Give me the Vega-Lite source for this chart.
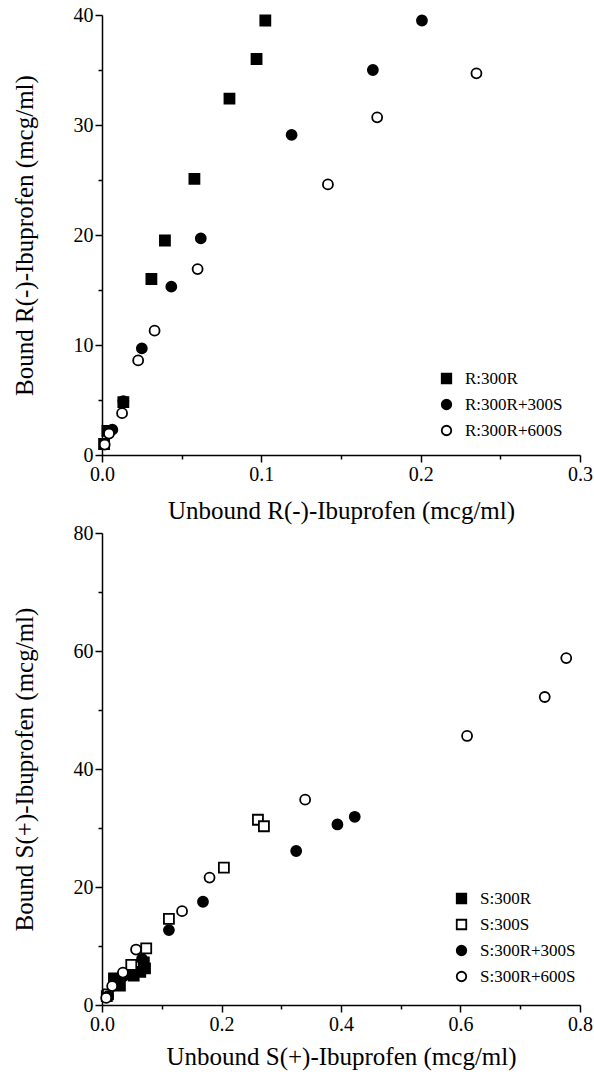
{
  "$schema": "https://vega.github.io/schema/vega-lite/v6.json",
  "background": "white",
  "padding": {"left": 12, "top": 5, "right": 4, "bottom": 5},
  "spacing": 0,
  "config": {
    "view": {"stroke": null},
    "font": "'Liberation Serif', 'Times New Roman', serif",
    "axis": {"grid": false, "domainColor": "black", "domainWidth": 1.5, "tickColor": "black", "tickWidth": 1.5, "labelFont": "'Liberation Serif', 'Times New Roman', serif", "labelFontSize": 20, "labelColor": "black", "titleFont": "'Liberation Serif', 'Times New Roman', serif", "titleFontSize": 25, "titleFontWeight": "normal", "titleColor": "black", "labelPadding": 2, "labelOverlap": false, "labelFlush": false},
    "legend": {"labelFont": "'Liberation Serif', 'Times New Roman', serif", "labelFontSize": 17, "labelColor": "black"}
  },
  "resolve": {"scale": {"x": "independent", "y": "independent", "shape": "independent", "fill": "independent", "stroke": "independent"}},
  "vconcat": [
    {
      "width": 478,
      "height": 440,
      "data": {"values": [
        {"u": 0.0013, "b": 1.0, "g": "R:300R"},
        {"u": 0.0034, "b": 2.2, "g": "R:300R"},
        {"u": 0.0134, "b": 4.8, "g": "R:300R"},
        {"u": 0.031, "b": 16.0, "g": "R:300R"},
        {"u": 0.0395, "b": 19.5, "g": "R:300R"},
        {"u": 0.058, "b": 25.1, "g": "R:300R"},
        {"u": 0.080, "b": 32.4, "g": "R:300R"},
        {"u": 0.097, "b": 36.0, "g": "R:300R"},
        {"u": 0.1025, "b": 39.5, "g": "R:300R"},
        {"u": 0.0065, "b": 2.3, "g": "R:300R+300S"},
        {"u": 0.0134, "b": 4.9, "g": "R:300R+300S"},
        {"u": 0.025, "b": 9.7, "g": "R:300R+300S"},
        {"u": 0.0435, "b": 15.3, "g": "R:300R+300S"},
        {"u": 0.062, "b": 19.7, "g": "R:300R+300S"},
        {"u": 0.119, "b": 29.1, "g": "R:300R+300S"},
        {"u": 0.170, "b": 35.0, "g": "R:300R+300S"},
        {"u": 0.2008, "b": 39.5, "g": "R:300R+300S"},
        {"u": 0.0017, "b": 0.95, "g": "R:300R+600S"},
        {"u": 0.0044, "b": 1.95, "g": "R:300R+600S"},
        {"u": 0.0126, "b": 3.8, "g": "R:300R+600S"},
        {"u": 0.0227, "b": 8.6, "g": "R:300R+600S"},
        {"u": 0.033, "b": 11.3, "g": "R:300R+600S"},
        {"u": 0.060, "b": 16.9, "g": "R:300R+600S"},
        {"u": 0.1418, "b": 24.6, "g": "R:300R+600S"},
        {"u": 0.1727, "b": 30.7, "g": "R:300R+600S"},
        {"u": 0.235, "b": 34.7, "g": "R:300R+600S"}
      ]},
      "mark": {"type": "point", "filled": true, "strokeWidth": 1.8, "size": 100, "opacity": 1},
      "encoding": {
        "x": {"field": "u", "type": "quantitative", "scale": {"domain": [0, 0.3], "nice": false},
          "axis": {"title": "Unbound R(-)-Ibuprofen (mcg/ml)", "values": [0, 0.05, 0.1, 0.15, 0.2, 0.25, 0.3], "format": ".1f",
            "labelExpr": "abs(datum.value*10 - round(datum.value*10)) < 0.001 ? datum.label : ''",
            "tickSize": {"condition": {"test": "abs(datum.value*10 - round(datum.value*10)) < 0.001", "value": 7}, "value": 4},
            "titlePadding": 14}},
        "y": {"field": "b", "type": "quantitative", "scale": {"domain": [0, 40], "nice": false},
          "axis": {"title": "Bound R(-)-Ibuprofen (mcg/ml)", "values": [0, 5, 10, 15, 20, 25, 30, 35, 40],
            "labelExpr": "datum.value % 10 == 0 ? datum.label : ''",
            "tickSize": {"condition": {"test": "datum.value % 10 == 0", "value": 7}, "value": 4},
            "titlePadding": 36}},
        "fill": {"field": "g", "type": "nominal", "scale": {"domain": ["R:300R", "R:300R+300S", "R:300R+600S"], "range": ["black", "black", "white"]},
          "legend": {"title": null, "orient": "none", "legendX": 336, "legendY": 355, "padding": 0, "rowPadding": 8, "labelOffset": 10, "symbolSize": 90, "symbolStrokeWidth": 1.8}},
        "stroke": {"field": "g", "type": "nominal", "scale": {"domain": ["R:300R", "R:300R+300S", "R:300R+600S"], "range": ["black", "black", "black"]},
          "legend": {"title": null, "orient": "none", "legendX": 336, "legendY": 355, "padding": 0, "rowPadding": 8, "labelOffset": 10, "symbolSize": 90, "symbolStrokeWidth": 1.8}},
        "shape": {"field": "g", "type": "nominal", "scale": {"domain": ["R:300R", "R:300R+300S", "R:300R+600S"], "range": ["square", "circle", "circle"]},
          "legend": {"title": null, "orient": "none", "legendX": 336, "legendY": 355, "padding": 0, "rowPadding": 8, "labelOffset": 10, "symbolSize": 90, "symbolStrokeWidth": 1.8}}
      }
    },
    {
      "width": 478,
      "height": 472,
      "data": {"values": [
        {"u": 0.008, "b": 1.5, "g": "S:300R"},
        {"u": 0.020, "b": 4.5, "g": "S:300R"},
        {"u": 0.030, "b": 3.3, "g": "S:300R"},
        {"u": 0.053, "b": 5.0, "g": "S:300R"},
        {"u": 0.064, "b": 5.6, "g": "S:300R"},
        {"u": 0.070, "b": 7.2, "g": "S:300R"},
        {"u": 0.072, "b": 6.2, "g": "S:300R"},
        {"u": 0.010, "b": 1.8, "g": "S:300S"},
        {"u": 0.049, "b": 6.8, "g": "S:300S"},
        {"u": 0.074, "b": 9.6, "g": "S:300S"},
        {"u": 0.112, "b": 14.6, "g": "S:300S"},
        {"u": 0.204, "b": 23.3, "g": "S:300S"},
        {"u": 0.261, "b": 31.4, "g": "S:300S"},
        {"u": 0.271, "b": 30.3, "g": "S:300S"},
        {"u": 0.010, "b": 1.5, "g": "S:300R+300S"},
        {"u": 0.035, "b": 4.8, "g": "S:300R+300S"},
        {"u": 0.067, "b": 7.8, "g": "S:300R+300S"},
        {"u": 0.112, "b": 12.7, "g": "S:300R+300S"},
        {"u": 0.169, "b": 17.5, "g": "S:300R+300S"},
        {"u": 0.325, "b": 26.1, "g": "S:300R+300S"},
        {"u": 0.394, "b": 30.6, "g": "S:300R+300S"},
        {"u": 0.423, "b": 31.9, "g": "S:300R+300S"},
        {"u": 0.007, "b": 1.2, "g": "S:300R+600S"},
        {"u": 0.017, "b": 3.2, "g": "S:300R+600S"},
        {"u": 0.035, "b": 5.5, "g": "S:300R+600S"},
        {"u": 0.057, "b": 9.4, "g": "S:300R+600S"},
        {"u": 0.134, "b": 15.9, "g": "S:300R+600S"},
        {"u": 0.180, "b": 21.6, "g": "S:300R+600S"},
        {"u": 0.340, "b": 34.8, "g": "S:300R+600S"},
        {"u": 0.611, "b": 45.6, "g": "S:300R+600S"},
        {"u": 0.741, "b": 52.2, "g": "S:300R+600S"},
        {"u": 0.777, "b": 58.8, "g": "S:300R+600S"}
      ]},
      "mark": {"type": "point", "filled": true, "strokeWidth": 1.8, "size": 100, "opacity": 1},
      "encoding": {
        "x": {"field": "u", "type": "quantitative", "scale": {"domain": [0, 0.8], "nice": false},
          "axis": {"title": "Unbound S(+)-Ibuprofen (mcg/ml)", "values": [0, 0.1, 0.2, 0.3, 0.4, 0.5, 0.6, 0.7, 0.8], "format": ".1f",
            "labelExpr": "abs(datum.value*5 - round(datum.value*5)) < 0.001 ? datum.label : ''",
            "tickSize": {"condition": {"test": "abs(datum.value*5 - round(datum.value*5)) < 0.001", "value": 7}, "value": 4},
            "titlePadding": 10}},
        "y": {"field": "b", "type": "quantitative", "scale": {"domain": [0, 80], "nice": false},
          "axis": {"title": "Bound S(+)-Ibuprofen (mcg/ml)", "values": [0, 10, 20, 30, 40, 50, 60, 70, 80],
            "labelExpr": "datum.value % 20 == 0 ? datum.label : ''",
            "tickSize": {"condition": {"test": "datum.value % 20 == 0", "value": 7}, "value": 4},
            "titlePadding": 36}},
        "fill": {"field": "g", "type": "nominal", "scale": {"domain": ["S:300R", "S:300S", "S:300R+300S", "S:300R+600S"], "range": ["black", "white", "black", "white"]},
          "legend": {"title": null, "orient": "none", "legendX": 351, "legendY": 357, "padding": 0, "rowPadding": 8, "labelOffset": 10, "symbolSize": 90, "symbolStrokeWidth": 1.8}},
        "stroke": {"field": "g", "type": "nominal", "scale": {"domain": ["S:300R", "S:300S", "S:300R+300S", "S:300R+600S"], "range": ["black", "black", "black", "black"]},
          "legend": {"title": null, "orient": "none", "legendX": 351, "legendY": 357, "padding": 0, "rowPadding": 8, "labelOffset": 10, "symbolSize": 90, "symbolStrokeWidth": 1.8}},
        "shape": {"field": "g", "type": "nominal", "scale": {"domain": ["S:300R", "S:300S", "S:300R+300S", "S:300R+600S"], "range": ["square", "square", "circle", "circle"]},
          "legend": {"title": null, "orient": "none", "legendX": 351, "legendY": 357, "padding": 0, "rowPadding": 8, "labelOffset": 10, "symbolSize": 90, "symbolStrokeWidth": 1.8}}
      }
    }
  ]
}
